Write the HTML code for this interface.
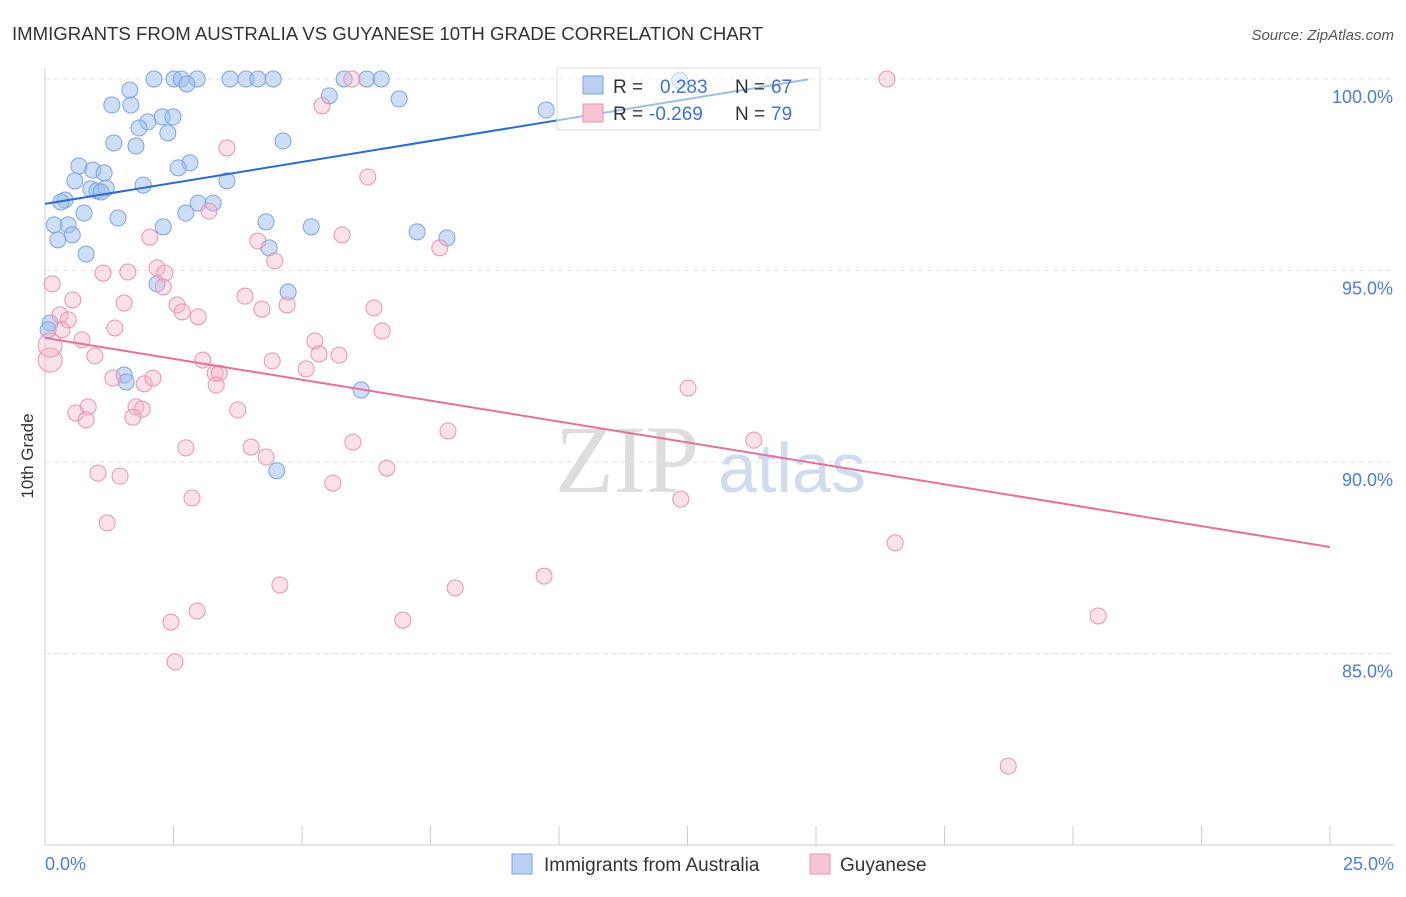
<!DOCTYPE html>
<html><head><meta charset="utf-8"><style>
body{margin:0;background:#fff;font-family:"Liberation Sans",sans-serif}
</style></head><body>
<svg id="chart" width="1406" height="892" xmlns="http://www.w3.org/2000/svg" font-family="Liberation Sans, sans-serif">
<text x="12" y="40" font-size="18.6" fill="#333">IMMIGRANTS FROM AUSTRALIA VS GUYANESE 10TH GRADE CORRELATION CHART</text>
<text x="1394" y="40" font-size="15" fill="#555" font-style="italic" text-anchor="end">Source: ZipAtlas.com</text>
<text transform="translate(33,456) rotate(-90)" font-size="17" fill="#333" text-anchor="middle">10th Grade</text>
<text x="555" y="492" font-size="96" fill="#ddd" font-family="Liberation Serif, serif">ZIP</text>
<text x="718" y="492" font-size="70" fill="#cfdcf0">atlas</text>
<g id="grid"></g><g id="marks"></g>
<g>
<rect x="557" y="68" width="263" height="62" fill="#fff" fill-opacity="0.55" stroke="#ddd"/>
<rect x="583" y="76" width="20" height="18" fill="#b9d0f3" stroke="#7aa3e0"/>
<rect x="583" y="104" width="20" height="18" fill="#f8c3d3" stroke="#e993b0"/>
<text x="613" y="93" font-size="19" fill="#333">R =</text>
<text x="660" y="93" font-size="19" fill="#3b73d1">0.283</text>
<text x="735" y="93" font-size="19" fill="#333">N =</text>
<text x="771" y="93" font-size="19" fill="#3b73d1">67</text>
<text x="613" y="120" font-size="19" fill="#333">R =</text>
<text x="649" y="120" font-size="19" fill="#3b73d1">-0.269</text>
<text x="735" y="120" font-size="19" fill="#333">N =</text>
<text x="771" y="120" font-size="19" fill="#3b73d1">79</text>
</g>
<g>
<rect x="512" y="854" width="20" height="20" fill="#b9d0f3" stroke="#7aa3e0"/>
<text x="544" y="871" font-size="19" fill="#333">Immigrants from Australia</text>
<rect x="810" y="854" width="20" height="20" fill="#f8c3d3" stroke="#e993b0"/>
<text x="840" y="871" font-size="19" fill="#333">Guyanese</text>
</g>
</svg>
<script>
const xTicks=[0,2.5,5,7.5,10,12.5,15,17.5,20,22.5,25];
const yTicks=[100,95,90,85];
const yTickLabels=["100.0%","95.0%","90.0%","85.0%"];
const blueX=[2.12,2.51,2.65,2.96,3.60,3.91,4.14,4.44,5.82,6.26,6.54,2.76,1.65,5.53,6.89,1.30,1.67,9.75,2.28,2.49,2.00,1.83,2.39,4.63,1.34,1.77,2.82,0.66,0.93,1.15,2.59,0.58,1.91,3.54,0.89,1.01,1.19,1.09,0.39,0.31,2.98,3.27,0.76,2.74,1.42,4.30,0.18,0.45,2.30,5.18,7.24,7.82,0.53,0.25,4.36,0.80,2.18,4.73,0.10,0.06,1.54,1.58,6.15,4.51,12.35];
const blueY=[100,100,100,100,100,100,100,100,100,100,100,99.87,99.71,99.56,99.48,99.32,99.32,99.19,99.01,99.01,98.88,98.72,98.59,98.38,98.33,98.25,97.81,97.73,97.62,97.55,97.68,97.34,97.23,97.34,97.13,97.08,97.15,97.05,96.84,96.79,96.76,96.76,96.50,96.50,96.37,96.27,96.19,96.19,96.14,96.14,96.01,95.85,95.93,95.80,95.59,95.43,94.65,94.44,93.63,93.45,92.27,92.09,91.88,89.77,99.97];
const pinkX=[16.38,5.97,5.39,3.54,6.28,3.19,2.04,4.14,5.78,7.68,4.47,0.14,1.13,1.61,2.18,2.33,2.30,0.54,3.89,1.54,2.57,2.67,2.98,4.22,4.71,6.40,0.29,0.45,0.33,1.36,6.56,5.25,0.72,0.97,3.07,4.42,5.33,5.72,5.08,1.32,3.31,3.39,1.93,2.10,3.33,0.84,0.60,1.77,1.89,1.71,0.80,3.75,12.51,7.84,5.99,13.79,2.74,4.01,4.30,1.03,1.46,6.65,5.60,2.86,12.37,1.21,16.54,9.71,4.57,7.98,2.96,6.96,2.45,20.49,2.53,18.74,0.10,0.10];
const pinkY=[100,100,99.30,98.20,97.44,96.55,95.87,95.77,95.93,95.59,95.25,94.65,94.93,94.96,95.07,94.93,94.57,94.23,94.33,94.15,94.10,93.92,93.79,93.99,94.10,94.02,93.84,93.71,93.45,93.50,93.42,93.16,93.19,92.77,92.66,92.64,92.82,92.79,92.43,92.19,92.32,92.32,92.04,92.19,92.01,91.44,91.28,91.44,91.38,91.17,91.10,91.36,91.93,90.81,90.52,90.57,90.37,90.39,90.13,89.71,89.63,89.84,89.45,89.06,89.03,88.41,87.89,87.02,86.79,86.71,86.11,85.87,85.82,85.98,84.78,82.06,92.66,93.05];
const blueTrend=[96.74,0.2189];
const pinkTrend=[93.24,-0.2184];
const blueTrendEnd=14.85;
const NS="http://www.w3.org/2000/svg";
const sx=v=>45+v/25*1285;
const sy=v=>79+(100-v)/5*191.5;
const grid=document.getElementById('grid'),marks=document.getElementById('marks');
function mk(tag,attrs,parent){const e=document.createElementNS(NS,tag);for(const k in attrs)e.setAttribute(k,attrs[k]);parent.appendChild(e);return e;}
yTicks.forEach((t,i)=>{
 const l=mk('line',{x1:45,x2:1394,y1:sy(t),y2:sy(t),stroke:'#e2e2e2','stroke-dasharray':'5,4'},grid);
 
 
 const tx=mk('text',{x:1393,y:sy(t)+24,'font-size':18,fill:'#4a7fd6','text-anchor':'end'},grid);
 tx.textContent=yTickLabels[i];
 
 
});
const ax=mk('line',{x1:45,x2:45,y1:68,y2:845,stroke:'#ccc'},grid);


const bx=mk('line',{x1:45,x2:1394,y1:845,y2:845,stroke:'#ccc'},grid);


xTicks.forEach(t=>{
 const l=mk('line',{x1:sx(t),x2:sx(t),y1:826,y2:845,stroke:'#ccc'},grid);
 
 
});
[[0,'0.0%','start',45],[25,'25.0%','end',1394]].forEach(a=>{
 const tx=mk('text',{x:a[3],y:870,'font-size':18,fill:'#4a7fd6','text-anchor':a[2]},grid);
 tx.textContent=a[1];
 
 
});
blueX.forEach((x,i)=>{
 const c=mk('circle',{cx:sx(x),cy:sy(blueY[i]),r:8,fill:'rgba(160,190,240,0.5)',stroke:'#7aa3e0','stroke-width':1},marks);
 
 
});
pinkX.forEach((x,i)=>{
 const c=mk('circle',{cx:sx(x),cy:sy(pinkY[i]),r:i>=pinkX.length-2?12:8,fill:'rgba(245,180,200,0.4)',stroke:'#e993b0','stroke-width':1},marks);
 
 
});
const bl=mk('line',{x1:sx(0),y1:sy(blueTrend[0]),x2:sx(blueTrendEnd),y2:sy(blueTrend[0]+blueTrend[1]*blueTrendEnd),stroke:'#2a6bd6','stroke-width':2},marks);


const pl=mk('line',{x1:sx(0),y1:sy(pinkTrend[0]),x2:sx(25),y2:sy(pinkTrend[0]+pinkTrend[1]*25),stroke:'#e5709a','stroke-width':2},marks);


</script>
</body></html>
